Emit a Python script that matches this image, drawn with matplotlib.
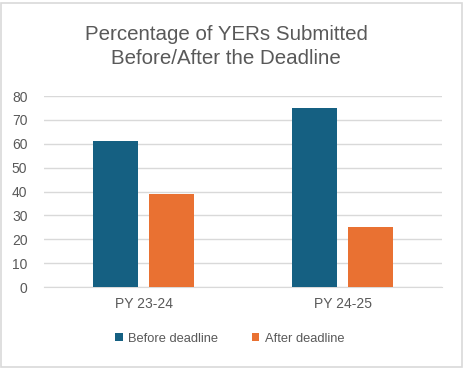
import matplotlib.pyplot as plt
import numpy as np
from matplotlib.patches import Rectangle

categories = ['PY 23-24', 'PY 24-25']
series_names = ['Before deadline', 'After deadline']
before = [61, 75]
after = [39, 25]
yticks = [0, 10, 20, 30, 40, 50, 60, 70, 80]

def make_plot():
	plt.rcParams['font.family'] = ['Liberation Sans', 'DejaVu Sans']
	grey = '#595959'
	colors = ['#156082', '#E97132']
	fig = plt.figure(figsize=(4.64, 3.68), dpi=100)
	ax = fig.add_axes([0.095, 0.22, 0.858, 0.519])
	x = np.arange(len(categories))
	w = 0.225
	ax.bar(x - 0.14, before, w, color=colors[0], label=series_names[0], zorder=3)
	ax.bar(x + 0.14, after, w, color=colors[1], label=series_names[1], zorder=3)
	ax.set_xlim(-0.5, 1.5)
	ax.set_ylim(0, 80)
	ax.set_yticks(yticks)
	ax.set_xticks(x, categories)
	ax.grid(axis='y', color='#D9D9D9', linewidth=1, zorder=0)
	for s in ['top', 'right', 'left']:
		ax.spines[s].set_visible(False)
	ax.spines['bottom'].set_color('#D9D9D9')
	ax.tick_params(length=0, colors=grey, labelsize=10)
	ax.tick_params(axis='y', pad=12)
	ax.tick_params(axis='x', pad=7)
	fig.text(0.487, 0.874, 'Percentage of YERs Submitted\nBefore/After the Deadline',
		ha='center', va='center', fontsize=14.8, color=grey, linespacing=1.3)
	fig.legend(loc='center', bbox_to_anchor=(0.495, 0.079), ncol=2, frameon=False,
		fontsize=9.3, labelcolor=grey, handlelength=0.6, handleheight=0.6,
		handletextpad=0.4, columnspacing=2.6)
	fig.patches.append(Rectangle((0.003, 0.003), 0.992, 0.99, transform=fig.transFigure,
		fill=False, edgecolor='#D9D9D9', linewidth=1.2))
	fig.savefig('out.png')

if __name__ == '__main__': make_plot()
